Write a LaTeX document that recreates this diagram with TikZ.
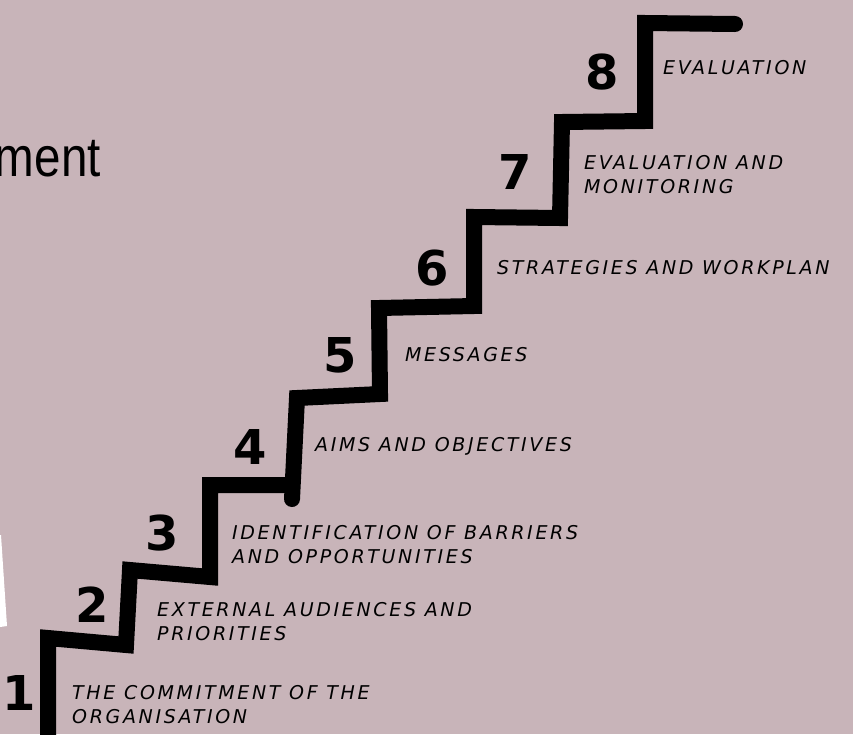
\documentclass[tikz,border=0pt]{standalone}
\usepackage{fontspec}
\usepackage{xcolor}
\newfontfamily\handfont[LetterSpace=14]{DejaVu Sans}
\newfontfamily\stepfont{DejaVu Sans}
\newfontfamily\titlefont[FakeStretch=0.85]{Liberation Sans}
\definecolor{bgpink}{RGB}{200,180,185}

\begin{document}
\begin{tikzpicture}[x=1pt,y=-1pt,
  num/.style={font=\stepfont\bfseries\fontsize{48}{48}\selectfont},
  lbl/.style={anchor=north west,inner sep=0pt,align=left,
    font=\handfont\itshape\fontsize{19}{24}\selectfont},
  stair/.style={line width=16pt,line cap=round,line join=miter}]
\useasboundingbox (0,0) rectangle (853,734);
\fill[bgpink] (0,0) rectangle (853,734);
\clip (0,0) rectangle (853,734);

% cut-off title and white wedge
\node[anchor=base east,inner sep=0pt,font=\titlefont\fontsize{56}{56}\selectfont] (title) at (101,176) {ment};
\fill[white] (0,535) -- (1,535) -- (7,626) -- (0,627) -- cycle;

% the stairs
\draw[stair] (48,745) -- (48,638) -- (126,645) -- (130,570) -- (210,577) -- (210,485) -- (290,485);
\draw[stair] (292,499) -- (297,398) -- (380,394) -- (379,308) -- (474,306) -- (474,217)
  -- (560,218) -- (562,122) -- (645,121) -- (645,23) -- (735,24);

% step numbers
\node[num] (s1) at (19,693) {1};
\node[num] (s2) at (92,605) {2};
\node[num] (s3) at (162,533) {3};
\node[num] (s4) at (250,447) {4};
\node[num] (s5) at (340,355) {5};
\node[num] (s6) at (432,268) {6};
\node[num] (s7) at (515,172) {7};
\node[num] (s8) at (602,72) {8};

% step labels
\node[lbl] (l1) at (72,685) {THE COMMITMENT OF THE\\ORGANISATION};
\node[lbl] (l2) at (157,602) {EXTERNAL AUDIENCES AND\\PRIORITIES};
\node[lbl] (l3) at (232,525) {IDENTIFICATION OF BARRIERS\\AND OPPORTUNITIES};
\node[lbl] (l4) at (315,437) {AIMS AND OBJECTIVES};
\node[lbl] (l5) at (405,347) {MESSAGES};
\node[lbl] (l6) at (497,260) {STRATEGIES AND WORKPLAN};
\node[lbl] (l7) at (584,155) {EVALUATION AND\\MONITORING};
\node[lbl] (l8) at (663,60) {EVALUATION};
\end{tikzpicture}
\end{document}
